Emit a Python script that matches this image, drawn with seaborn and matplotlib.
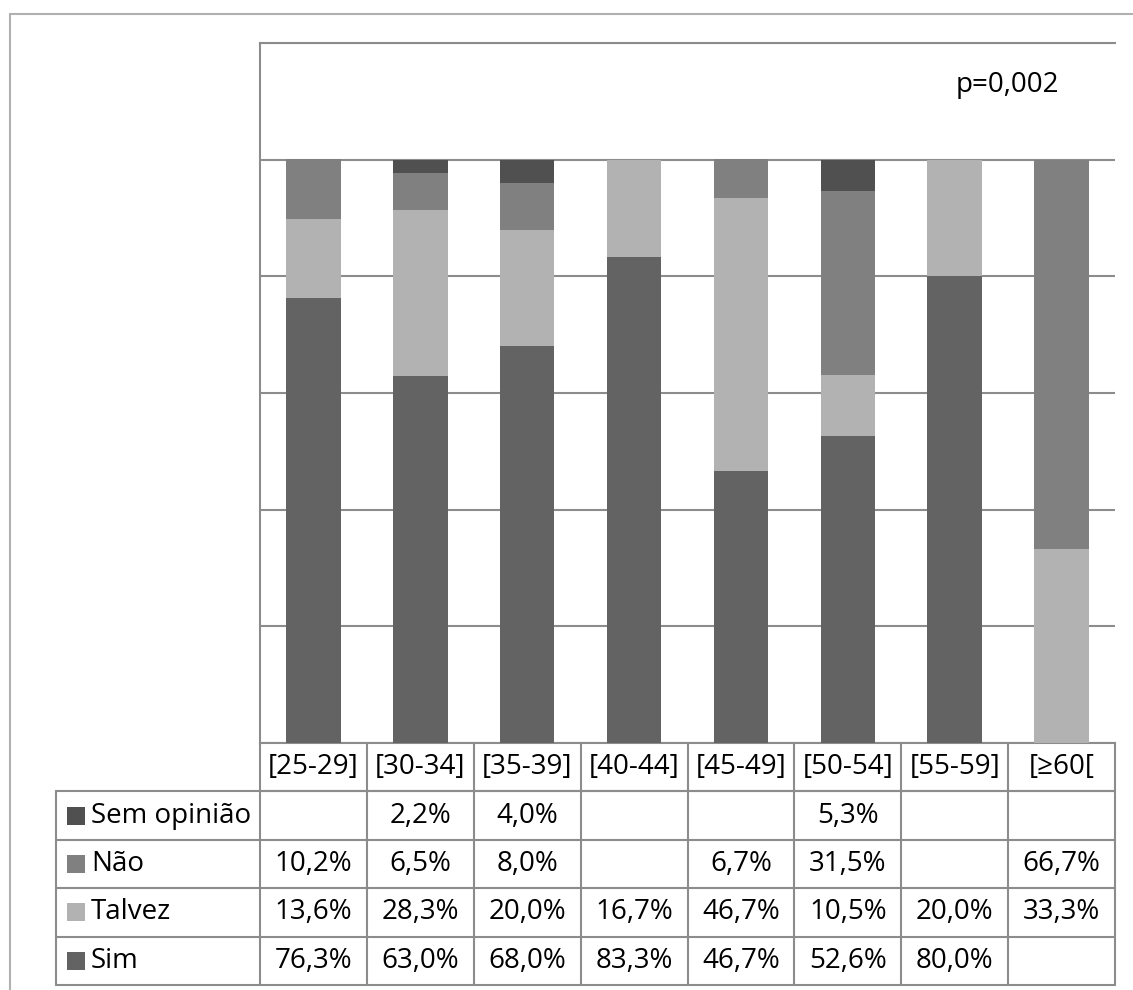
import numpy as np
import pandas as pd
import matplotlib
matplotlib.use("Agg")
import matplotlib.pyplot as plt
from matplotlib.patches import Rectangle
from matplotlib.lines import Line2D
import seaborn as sns

# ---- data (percent of respondents per age group) ----
age_groups = ["[25-29]", "[30-34]", "[35-39]", "[40-44]", "[45-49]", "[50-54]", "[55-59]", "[≥60["]
responses = ["Sem opinião", "Não", "Talvez", "Sim"]
sem_opiniao = [np.nan, 2.2, 4.0, np.nan, np.nan, 5.3, np.nan, np.nan]
nao = [10.2, 6.5, 8.0, np.nan, 6.7, 31.5, np.nan, 66.7]
talvez = [13.6, 28.3, 20.0, 16.7, 46.7, 10.5, 20.0, 33.3]
sim = [76.3, 63.0, 68.0, 83.3, 46.7, 52.6, 80.0, np.nan]
p_value_label = "p=0,002"

series = {"Sem opinião": sem_opiniao, "Não": nao, "Talvez": talvez, "Sim": sim}
colors = {"Sem opinião": "#505050", "Não": "#808080", "Talvez": "#b2b2b2", "Sim": "#636363"}

rows = []
for resp in responses:
    for i, v in enumerate(series[resp]):
        rows.append({"pos": i, "resp": resp, "value": 0.0 if np.isnan(v) else v / 100.0})
df = pd.DataFrame(rows)

sns.set_theme(style="white")
plt.rcParams["font.family"] = ["Open Sans", "DejaVu Sans"]

W, H = 1133, 990
fig = plt.figure(figsize=(W / 100, H / 100), dpi=100)
fig.patch.set_facecolor("white")

# plot area in pixels
px_l, px_r, px_t, px_b = 260, 1115, 43, 743
ax = fig.add_axes([px_l / W, 1 - px_b / H, (px_r - px_l) / W, (px_b - px_t) / H])

grid_c = "#8c8c8c"
sns.histplot(data=df, x="pos", weights="value", hue="resp", hue_order=responses,
             multiple="stack", discrete=True, shrink=0.51, palette=colors,
             alpha=1, linewidth=0, legend=False, ax=ax, zorder=3)

ax.set_xlim(-0.5, len(age_groups) - 0.5)
ax.set_ylim(0, 1.2)
ax.set_yticks(np.arange(0, 1.21, 0.2))
ax.set_yticklabels([])
ax.set_xticks([])
ax.set_xlabel("")
ax.set_ylabel("")
ax.tick_params(length=0)
ax.yaxis.grid(True, color=grid_c, linewidth=1.5)
ax.set_axisbelow(True)
for side in ["left", "top", "bottom"]:
    ax.spines[side].set_visible(True)
    ax.spines[side].set_color(grid_c)
    ax.spines[side].set_linewidth(1.5)
ax.spines["right"].set_visible(False)

fs = 20
ax.text(0.8745, 0.94, p_value_label, transform=ax.transAxes, ha="center", va="center",
        fontsize=fs, color="black")

# ---- data table below the plot ----
ax_w, ax_h = px_r - px_l, px_b - px_t
row_h = 48.4 / ax_h
legend_left = -204 / ax_w
n = len(age_groups)
xt = ax.get_xaxis_transform()  # x in data, y in axes fraction

def hline(x0, x1, y, transform):
    ax.add_line(Line2D([x0, x1], [y, y], transform=transform, color=grid_c,
                       linewidth=1.5, clip_on=False))

def vline(x, y0, y1, transform):
    ax.add_line(Line2D([x, x], [y0, y1], transform=transform, color=grid_c,
                       linewidth=1.5, clip_on=False))

# horizontal rules
hline(-0.5, n - 0.5, -row_h, xt)
for k in range(1, 6):
    hline(legend_left, 1.0, -k * row_h, ax.transAxes)
# vertical rules
for i in range(n + 1):
    vline(i - 0.5, 0, -5 * row_h, xt)
vline(legend_left, -row_h, -5 * row_h, ax.transAxes)

# category labels
for i, g in enumerate(age_groups):
    ax.text(i, -0.5 * row_h, g, transform=xt, ha="center", va="center",
            fontsize=fs, color="black")

# value rows with legend keys
key = 18
for r, resp in enumerate(responses):
    yc = -(r + 1.5) * row_h
    ax.add_patch(Rectangle(((67 - px_l) / ax_w, yc - key / 2 / ax_h), key / ax_w, key / ax_h,
                           transform=ax.transAxes, facecolor=colors[resp],
                           edgecolor="none", clip_on=False))
    ax.text((91 - px_l) / ax_w, yc, resp, transform=ax.transAxes, ha="left", va="center",
            fontsize=fs, color="black")
    for i, v in enumerate(series[resp]):
        if not np.isnan(v):
            ax.text(i, yc, f"{v:.1f}".replace(".", ",") + "%", transform=xt,
                    ha="center", va="center", fontsize=fs, color="black")

# outer chart frame
frame_c = "#b0b0b0"
fig.add_artist(Line2D([10 / W, 1.0], [1 - 14 / H, 1 - 14 / H], transform=fig.transFigure,
                      color=frame_c, linewidth=1.5))
fig.add_artist(Line2D([10 / W, 10 / W], [1 - 14 / H, 0], transform=fig.transFigure,
                      color=frame_c, linewidth=1.5))

fig.savefig("out.png", dpi=100, facecolor="white")
